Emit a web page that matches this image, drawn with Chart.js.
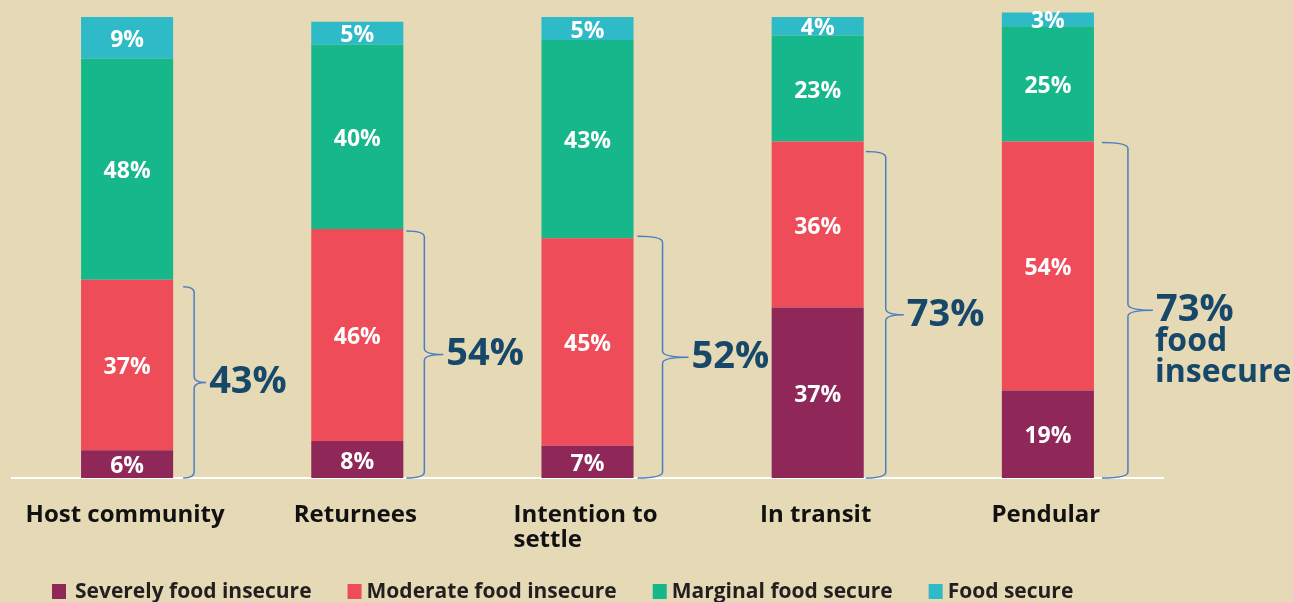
<!DOCTYPE html>
<html>
<head>
<meta charset="utf-8">
<script src="https://cdn.jsdelivr.net/npm/chart.js@4.4.1/dist/chart.umd.min.js"></script>
<style>
  html, body { margin: 0; padding: 0; background: #e6d9b5; }
  #wrap { width: 1293px; height: 602px; position: relative; }
</style>
</head>
<body>
<div id="wrap"><canvas id="foodChart"></canvas></div>
<script>
const categories = ['Host community', 'Returnees', ['Intention to', 'settle'], 'In transit', 'Pendular'];
const severe   = [6, 8, 7, 37, 19];
const moderate = [37, 46, 45, 36, 54];
const marginal = [48, 40, 43, 23, 25];
const secure   = [9, 5, 5, 4, 3];
const insecureTotal = [43, 54, 52, 73, 73];
const insecureNote  = [[], [], [], [], ['food', 'insecure']];
const seriesNames = ['Severely food insecure', 'Moderate food insecure', 'Marginal food secure', 'Food secure'];

const colors = ['#8f2858', '#ef4c59', '#15b78b', '#2ebac7'];
const FONT = "'Open Sans', 'Noto Sans', sans-serif";

// forme des accolades (décalages en px depuis le bord droit de la barre)
const braceShape = [
    { stub: 10, spine: 21, tip: 33, top: 7 },
    { stub: 3,  spine: 21, tip: 40, top: 2 },
    { stub: 4,  spine: 29, tip: 55, top: -2 },
    { stub: 2,  spine: 22, tip: 40, top: 10 },
    { stub: 8,  spine: 34, tip: 59, top: 1 }
];

// fond beige
const bgPlugin = {
    id: 'bg',
    beforeDraw(chart) {
        const c = chart.ctx;
        c.save();
        c.fillStyle = '#e6d9b5';
        c.fillRect(0, 0, chart.width, chart.height);
        c.restore();
    }
};

// pourcentages blancs dans les segments
const segLabels = {
    id: 'segLabels',
    afterDatasetsDraw(chart) {
        const c = chart.ctx;
        c.save();
        c.fillStyle = '#ffffff';
        c.font = 'bold 23px ' + FONT;
        c.textAlign = 'center';
        c.textBaseline = 'middle';
        chart.data.datasets.forEach((ds, d) => {
            chart.getDatasetMeta(d).data.forEach((bar, i) => {
                c.fillText(ds.data[i] + '%', bar.x, (bar.y + bar.base) / 2 + 2.5);
            });
        });
        c.restore();
    }
};

// accolades + total insécurité
const brackets = {
    id: 'brackets',
    afterDatasetsDraw(chart) {
        const c = chart.ctx;
        const y = chart.scales.y;
        const bars = chart.getDatasetMeta(1).data;
        c.save();
        bars.forEach((bar, i) => {
            const s = braceShape[i];
            const xR = bar.x + bar.width / 2;
            const top = y.getPixelForValue(severe[i] + moderate[i]) + s.top;
            const bottom = y.getPixelForValue(0);
            const x0 = xR + s.stub, x1 = xR + s.spine, tip = xR + s.tip;
            const mid = (top + bottom) / 2;
            c.strokeStyle = '#4a7fc6';
            c.lineWidth = 1.5;
            c.beginPath();
            c.moveTo(x0, top);
            c.quadraticCurveTo(x1, top, x1, top + 6);
            c.lineTo(x1, mid - 6);
            c.quadraticCurveTo(x1, mid, tip, mid);
            c.moveTo(tip, mid);
            c.quadraticCurveTo(x1, mid, x1, mid + 6);
            c.lineTo(x1, bottom - 6);
            c.quadraticCurveTo(x1, bottom, x0, bottom);
            c.stroke();

            c.fillStyle = '#17486a';
            c.textAlign = 'left';
            c.textBaseline = 'middle';
            c.font = 'bold 38px ' + FONT;
            c.fillText(insecureTotal[i] + '%', tip + 3, mid);
            c.font = 'bold 32px ' + FONT;
            insecureNote[i].forEach((line, k) => {
                c.fillText(line, tip + 2, mid + 32 + k * 31);
            });
        });
        c.restore();
    }
};

// étiquettes de catégories (lignes alignées à gauche dans un bloc centré)
const catLabels = {
    id: 'catLabels',
    afterDraw(chart) {
        const c = chart.ctx;
        const x = chart.scales.x;
        c.save();
        c.fillStyle = '#111111';
        c.font = 'bold 24px ' + FONT;
        c.textBaseline = 'middle';
        c.textAlign = 'left';
        categories.forEach((lab, i) => {
            const lines = Array.isArray(lab) ? lab : [lab];
            const w = Math.max(...lines.map(l => c.measureText(l).width));
            const left = x.getPixelForValue(i) - w / 2 - 2;
            lines.forEach((l, k) => c.fillText(l, left, 515 + k * 25));
        });
        c.restore();
    }
};

// légende en bas
const bottomLegend = {
    id: 'bottomLegend',
    afterDraw(chart) {
        const c = chart.ctx;
        c.save();
        c.font = 'bold 21px ' + FONT;
        c.textBaseline = 'middle';
        c.textAlign = 'left';
        let cx = 52;
        const cy = 592;
        chart.data.datasets.forEach((ds, d) => {
            c.fillStyle = ds.backgroundColor;
            c.fillRect(cx, cy - 8, 14, 15);
            cx += 14 + (d === 0 ? 9 : 5);
            c.fillStyle = '#231f20';
            c.fillText(ds.label, cx, cy);
            cx += c.measureText(ds.label).width + 36;
        });
        c.restore();
    }
};

const ctx = document.getElementById('foodChart').getContext('2d');
const myChart = new Chart(ctx, {
    type: 'bar',
    data: {
        labels: categories,
        datasets: [
            { label: seriesNames[0], data: severe,   backgroundColor: colors[0] },
            { label: seriesNames[1], data: moderate, backgroundColor: colors[1] },
            { label: seriesNames[2], data: marginal, backgroundColor: colors[2] },
            { label: seriesNames[3], data: secure,   backgroundColor: colors[3] }
        ]
    },
    plugins: [bgPlugin, segLabels, brackets, catLabels, bottomLegend],
    options: {
        responsive: true,
        maintainAspectRatio: false,
        animation: false,
        layout: { padding: { left: 12, right: 130, top: 0, bottom: 124 } },
        datasets: {
            bar: { categoryPercentage: 1, barPercentage: 0.4, borderWidth: 0 }
        },
        plugins: {
            legend: { display: false },
            tooltip: { enabled: false }
        },
        scales: {
            x: {
                stacked: true,
                grid: { display: false, drawTicks: false },
                ticks: { display: false },
                border: { color: '#ffffff', width: 2 }
            },
            y: {
                stacked: true,
                display: false,
                min: 0,
                max: 103.7
            }
        }
    }
});
</script>
</body>
</html>
